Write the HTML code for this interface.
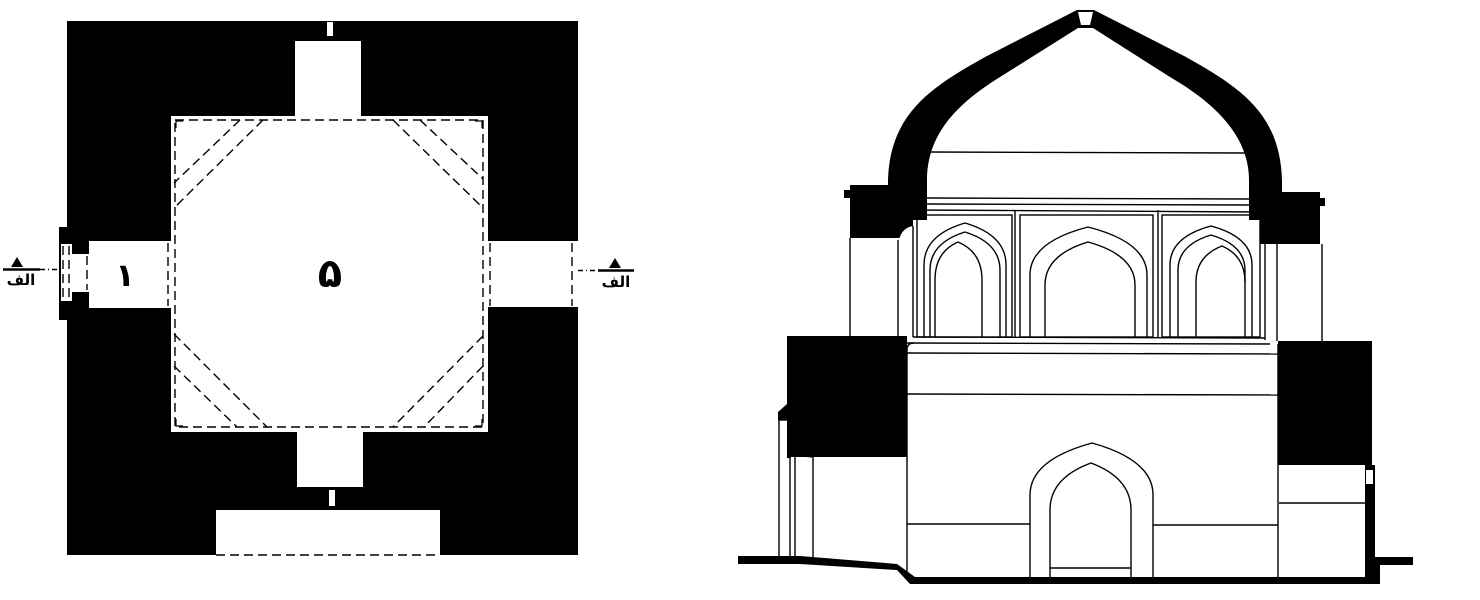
<!DOCTYPE html>
<html><head><meta charset="utf-8"><style>
html,body{margin:0;padding:0;background:#fff;width:1480px;height:600px;overflow:hidden}
svg{display:block}
</style></head><body>
<svg width="1480" height="600" viewBox="0 0 1480 600" xmlns="http://www.w3.org/2000/svg">
<!-- PLAN -->
<rect x="67" y="21" width="511" height="534" fill="#000"/>
<rect x="59" y="227" width="10" height="93" fill="#000"/>
<rect x="171" y="116" width="317" height="316" fill="#fff"/>
<rect x="295" y="41" width="66" height="76" fill="#fff"/>
<rect x="327" y="22" width="6" height="14" fill="#fff"/>
<rect x="297" y="431" width="66" height="56" fill="#fff"/>
<rect x="329" y="490" width="6" height="16" fill="#fff"/>
<rect x="216" y="510" width="224" height="46" fill="#fff"/>
<rect x="89" y="241" width="84" height="67" fill="#fff"/>
<rect x="72" y="254" width="18" height="38" fill="#fff"/>
<rect x="61" y="244" width="11" height="57" fill="#fff"/>
<rect x="486" y="241" width="92" height="66" fill="#fff"/>
<g stroke="#000" stroke-width="1.4" fill="none" stroke-dasharray="9,5">
<rect x="175" y="120" width="308" height="307"/>
<line x1="216" y1="555" x2="440" y2="555"/>
<line x1="572" y1="243" x2="572" y2="306"/>
<line x1="168" y1="243" x2="168" y2="306"/>
<line x1="490" y1="243" x2="490" y2="306"/>
<line x1="63" y1="246" x2="63" y2="300"/>
<line x1="69" y1="246" x2="69" y2="300"/>
<line x1="87" y1="256" x2="87" y2="290"/>
<line x1="263" y1="120" x2="174" y2="208"/>
<line x1="240" y1="120" x2="174" y2="183"/>
<line x1="393" y1="120" x2="483" y2="208"/>
<line x1="420" y1="120" x2="483" y2="179"/>
<line x1="174" y1="334" x2="267" y2="427"/>
<line x1="174" y1="366" x2="237" y2="427"/>
<line x1="483" y1="336" x2="393" y2="427"/>
<line x1="483" y1="366" x2="424" y2="427"/>
</g>
<g stroke="#000" stroke-width="1.2" fill="none">
<path d="M176 128 L176 121 L183 121"/><path d="M482 128 L482 121 L475 121"/>
<path d="M176 419 L176 426 L183 426"/><path d="M482 419 L482 426 L475 426"/>
</g>
<text x="330" y="287" font-family="'Liberation Sans','DejaVu Sans',sans-serif" font-size="40" font-weight="bold" text-anchor="middle">۵</text>
<text x="125" y="286" font-family="'Liberation Sans','DejaVu Sans',sans-serif" font-size="32" font-weight="bold" text-anchor="middle">۱</text>
<polygon points="11,267 23,267 17,257" fill="#000"/>
<line x1="3" y1="269.5" x2="40" y2="269.5" stroke="#000" stroke-width="2.5"/>
<line x1="40" y1="269.5" x2="58" y2="269.5" stroke="#000" stroke-width="1.5" stroke-dasharray="5,3,1,3"/>
<text x="21" y="285" font-family="'Liberation Sans','DejaVu Sans',sans-serif" font-size="15" font-weight="bold" text-anchor="middle">الف</text>
<polygon points="609,268 621,268 615,258" fill="#000"/>
<line x1="598" y1="270.5" x2="634" y2="270.5" stroke="#000" stroke-width="2.5"/>
<line x1="578" y1="270.5" x2="598" y2="270.5" stroke="#000" stroke-width="1.5" stroke-dasharray="5,3,1,3"/>
<text x="616" y="287" font-family="'Liberation Sans','DejaVu Sans',sans-serif" font-size="15" font-weight="bold" text-anchor="middle">الف</text>

<!-- SECTION -->
<path d="M888 220 L888 190 C886 115 930 88 985 57 L1077 10 L1094 10 L1186 57 C1241 88 1284 115 1282 190 L1282 220 Z" fill="#000"/>
<path d="M927 220 L927 180 C927 132 960 102 1000 77 L1078 28 L1093 28 L1170 77 C1213 102 1249 135 1249 180 L1249 220 Z" fill="#fff"/>
<polygon points="1078,12 1093,12 1090,25 1081,25" fill="#fff"/>
<rect x="850" y="185" width="63" height="53" fill="#000"/>
<rect x="844" y="190" width="8" height="8" fill="#000"/>
<rect x="888" y="180" width="39" height="40" fill="#000"/>
<rect x="1260" y="192" width="60" height="52" fill="#000"/>
<rect x="1318" y="198" width="7" height="8" fill="#000"/>
<rect x="1249" y="180" width="33" height="40" fill="#000"/>
<path d="M913 226 Q900 228 898 245 L898 240 L913 240Z" fill="#fff"/>
<rect x="787" y="336" width="120" height="121" fill="#000"/>
<path d="M778 420 L778 412 L787 404 L787 420Z" fill="#000"/>
<rect x="787" y="418" width="4" height="40" fill="#000"/>
<rect x="1278" y="341" width="94" height="124" fill="#000"/>
<rect x="1365" y="465" width="10" height="118" fill="#000"/>
<rect x="1366" y="470" width="7" height="14" fill="#fff"/>
<path d="M738 556 L800 556 L897 564 L915 577 L1375 577 L1375 557 L1413 557 L1413 565 L1380 565 L1380 584 L910 584 L897 570 L800 564 L738 564Z" fill="#000"/>
<g stroke="#000" stroke-width="1.4" fill="none">
<line x1="927" y1="152" x2="1248" y2="153"/>
<line x1="927" y1="198" x2="1250" y2="199"/>
<line x1="927" y1="204" x2="1250" y2="205"/>
<line x1="913" y1="210" x2="1262" y2="212"/>
<line x1="850" y1="238" x2="850" y2="336"/>
<line x1="898" y1="240" x2="898" y2="336"/>
<line x1="913" y1="226" x2="913" y2="337"/>
<line x1="1322" y1="244" x2="1322" y2="341"/>
<line x1="1277" y1="244" x2="1277" y2="341"/>
<line x1="1265" y1="226" x2="1265" y2="340"/>
<rect x="917" y="215" width="95" height="122"/>
<rect x="1020" y="215" width="133" height="122"/>
<rect x="1162" y="215" width="98" height="122"/>
<line x1="1015" y1="210" x2="1015" y2="337"/>
<line x1="1158" y1="210" x2="1158" y2="337"/>
<line x1="913" y1="337" x2="1265" y2="338"/>
<line x1="907" y1="343" x2="1270" y2="344"/>
<path d="M924 337 V265 Q924 235 965 223 Q1006 235 1006 265 V337"/>
<path d="M930 337 V270 Q930 243 965 232 Q1000 243 1000 270 V337"/>
<path d="M935 337 V280 Q935 252 958 242 Q982 252 982 280 V337"/>
<path d="M1030 337 V275 Q1030 242 1088 227 Q1147 242 1147 275 V337"/>
<path d="M1045 337 V285 Q1045 255 1088 242 Q1135 255 1135 285 V337"/>
<path d="M1170 337 V265 Q1170 237 1211 226 Q1252 237 1252 265 V337"/>
<path d="M1178 337 V270 Q1178 245 1211 235 Q1245 245 1245 270 V337"/>
<path d="M1196 337 V282 Q1196 256 1222 246 Q1245 256 1245 282"/>
<path d="M907 577 V350 Q907 343 914 343"/>
<line x1="1278" y1="344" x2="1278" y2="577"/>
<line x1="907" y1="353" x2="1278" y2="354"/>
<line x1="907" y1="394" x2="1278" y2="395"/>
<line x1="907" y1="524" x2="1030" y2="524"/>
<line x1="1153" y1="525" x2="1278" y2="525"/>
<path d="M1030 577 V495 Q1030 460 1092 443 Q1153 460 1153 495 V577"/>
<path d="M1050 577 V510 Q1050 478 1091 463 Q1131 478 1131 510 V577"/>
<line x1="1050" y1="568" x2="1131" y2="568"/>
<line x1="1279" y1="503" x2="1365" y2="503"/>
<line x1="779" y1="420" x2="779" y2="556"/>
<line x1="790" y1="420" x2="790" y2="556"/>
<line x1="795" y1="455" x2="795" y2="556"/>
<line x1="813" y1="457" x2="813" y2="558"/>
<line x1="779" y1="420" x2="790" y2="420"/>
<line x1="795" y1="455" x2="813" y2="457"/>
</g>
</svg>
</body></html>
